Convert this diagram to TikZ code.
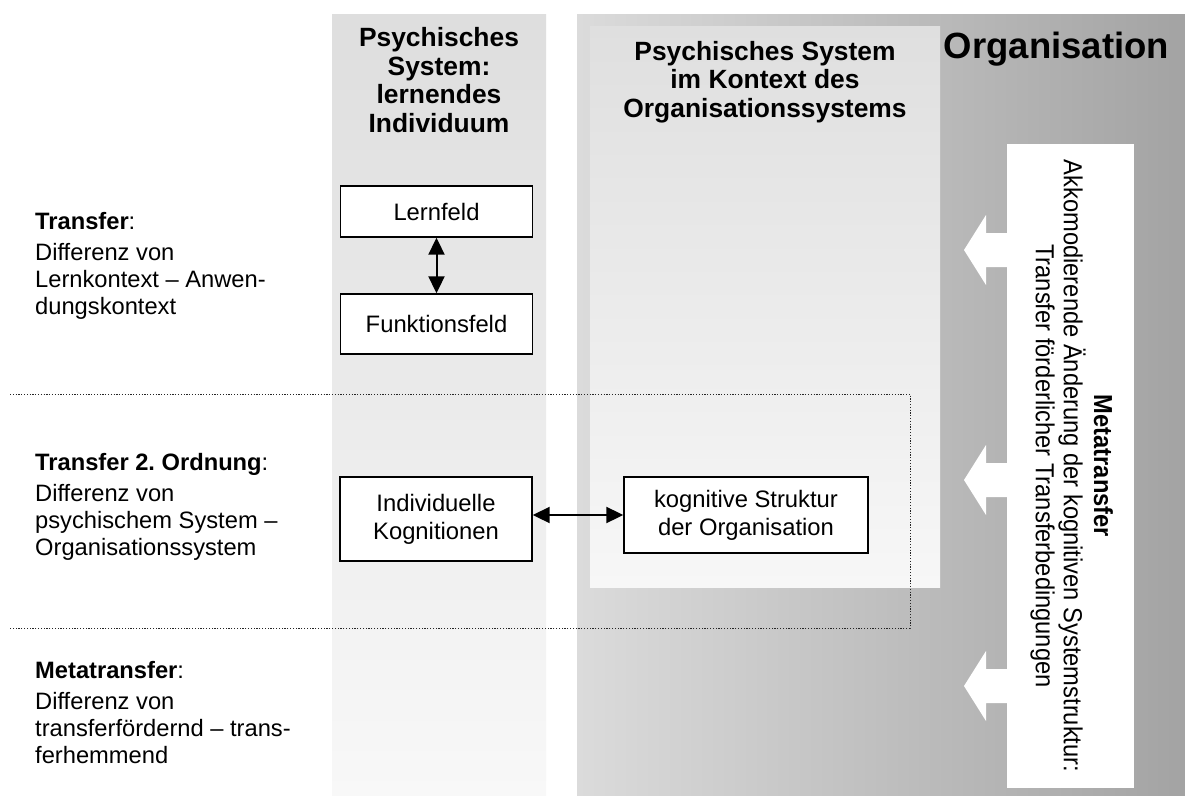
\documentclass[tikz,border=0pt]{standalone}
\usepackage{fontspec}
\usepackage{graphicx}
\setmainfont{Liberation Sans}
\frenchspacing
\usetikzlibrary{arrows.meta}

\definecolor{colTopA}{HTML}{DEDEDE}
\definecolor{colBotA}{HTML}{F8F8F8}
\definecolor{colLeftB}{HTML}{DBDBDB}
\definecolor{colRightB}{HTML}{A3A3A3}
\definecolor{colTopC}{HTML}{DFDFDF}
\definecolor{colBotC}{HTML}{F7F7F7}

\begin{document}
\begin{tikzpicture}[x=1pt,y=-1pt,
  body/.style={font=\fontsize{23.8}{28}\selectfont},
  head/.style={font=\fontsize{26.4}{28.5}\selectfont\bfseries, align=center, inner sep=0pt, anchor=north},
  fieldbox/.style={draw=black, line width=1.4pt, fill=white, align=center, inner sep=0pt, body},
  biarrow/.style={{Triangle[length=17pt,width=16pt]}-{Triangle[length=17pt,width=16pt]}, line width=2pt},
  sidenote/.style={font=\fontsize{23.7}{27}\selectfont, align=left, anchor=north west, inner sep=0pt},
  rowline/.style={line width=1pt, dash pattern=on 1.2pt off 1.6pt, black!85},
  blockarrow/.style={fill=white},
]
\useasboundingbox (0,0) rectangle (1185,795);
\fill[white] (0,0) rectangle (1185,795);

% column backgrounds
\shade[top color=colTopA, bottom color=colBotA] (332,14) rectangle (546,795);
\shade[left color=colLeftB, right color=colRightB] (577,14) rectangle (1185,795);
\shade[top color=colTopC, bottom color=colBotC] (590,26) rectangle (940,587);

% row separators
\draw[rowline] (10,394) -- (910,394) -- (910,628) -- (10,628);

% column headings
\node[head] (hdrA) at (439,27.5) {Psychisches\\System:\\lernendes\\Individuum};
\node[head] (hdrB) at (765,41) {Psychisches System\\im Kontext des\\Organisationssystems};
\node[font=\bfseries\fontsize{36.5}{40}\selectfont, anchor=base, inner sep=0pt] (org) at (1056.5,58) {Organisation};

% row descriptions
\node[sidenote] (noteA) at (35,212.5) {\textbf{Transfer}:\\[3.5pt]Differenz von\\Lernkontext -- Anwen-\\dungskontext};
\node[sidenote] (noteB) at (35,453.5) {\textbf{Transfer 2. Ordnung}:\\[3.5pt]Differenz von\\psychischem System --\\Organisationssystem};
\node[sidenote] (noteC) at (35,661.5) {\textbf{Metatransfer}:\\[3.5pt]Differenz von\\transferfördernd -- trans-\\ferhemmend};

% white block arrows pointing left out of the metatransfer box
\foreach \yc in {250,480,686}{
  \fill[blockarrow] (964,\yc) -- ++(22,-35) -- ++(0,18) -- ++(22,0) -- ++(0,34) -- ++(-22,0) -- ++(0,18) -- cycle;
}

% metatransfer box with vertical text
\node[fill=white, rotate=-90, minimum width=644pt, minimum height=127pt, inner sep=0pt] (meta) at (1070.5,466)
  {\scalebox{1}[1.1]{\fontsize{23.7}{25.5}\selectfont
   \begin{tabular}{@{}c@{}}\textbf{Metatransfer}\\Akkomodierende Änderung der kognitiven Systemstruktur:\\Transfer förderlicher Transferbedingungen\end{tabular}}};

% fields
\node[fieldbox, minimum width=192pt, minimum height=51pt] (lern) at (436.5,211.5) {Lernfeld};
\node[fieldbox, minimum width=192pt, minimum height=60pt] (funk) at (436.5,324) {Funktionsfeld};
\node[fieldbox, minimum width=192pt, minimum height=84pt] (ind) at (436,519) {Individuelle\\Kognitionen};
\node[fieldbox, minimum width=244pt, minimum height=76pt] (kog) at (746,515) {kognitive Struktur\\der Organisation};

% connections
\draw[biarrow] (lern) -- (funk);
\draw[biarrow] (ind.east |- kog.west) -- (kog.west);
\end{tikzpicture}
\end{document}
